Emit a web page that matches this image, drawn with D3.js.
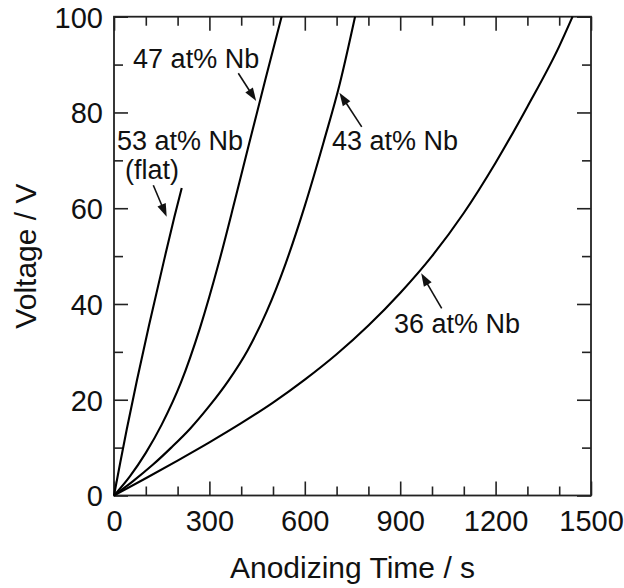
<!DOCTYPE html>
<html>
<head>
<meta charset="utf-8">
<script src="https://cdn.jsdelivr.net/npm/d3@7"></script>
<style>
  html, body { margin: 0; padding: 0; background: #fff; }
  svg { display: block; }
  text { font-family: "Liberation Sans", Arial, Helvetica, sans-serif; fill: #111; }
</style>
</head>
<body>
<svg id="chart" width="624" height="588"></svg>
<script>
// ---- Data ----
const t53 = [0, 20, 40, 72, 110, 157, 190, 213];
const v53 = [0, 7.0, 13.8, 24.0, 35.5, 49.0, 58.2, 64.2];

const t47 = [0, 50, 100, 150, 210, 270, 330, 380, 425, 475, 527];
const v47 = [0, 4.0, 8.9, 14.8, 23.5, 34.9, 48.7, 61.6, 73.5, 86.6, 100];

const t43 = [0, 60, 120, 180, 240, 300, 360, 420, 480, 540, 600, 660, 710, 758];
const v43 = [0, 3.0, 6.3, 10.0, 14.0, 18.7, 24.0, 30.3, 38.4, 48.5, 60.5, 74.0, 86.0, 100];

const t36 = [0, 100, 200, 300, 400, 500, 600, 700, 800, 900, 1000, 1100, 1200, 1300, 1400, 1442];
const v36 = [0, 3.6, 7.3, 11.1, 15.1, 19.4, 24.2, 29.5, 35.5, 42.3, 50.0, 59.0, 69.5, 81.2, 93.8, 100];

const xMajorTicks = [0, 300, 600, 900, 1200, 1500];
const xMinorTicks = [100, 200, 400, 500, 700, 800, 1000, 1100, 1300, 1400];
const yMajorTicks = [0, 20, 40, 60, 80, 100];
const yMinorTicks = [10, 30, 50, 70, 90];

const xTitle = "Anodizing Time / s";
const yTitle = "Voltage / V";

// annotation labels (data coords) and arrows (from -> to, data coords)
const labelTexts = ["47 at% Nb", "53 at% Nb", "(flat)", "43 at% Nb", "36 at% Nb"];
const labelT = [60, 9.4, 34.6, 685.5, 880.5];
const labelV = [89.3, 72.2, 66.1, 72.2, 33.9];

const arrowFromT = [390.9, 123.6, 779, 1030.5];
const arrowFromV = [88.2, 64.8, 77.0, 39.1];
const arrowToT = [447, 165.7, 709, 966];
const arrowToV = [82.4, 58.2, 84.1, 46.4];

// ---- Chart ----
const svg = d3.select("#chart");
const L = 114, R = 591, T = 16.7, B = 495.5;

const x = d3.scaleLinear().domain([0, 1500]).range([L, R]);
const y = d3.scaleLinear().domain([0, 100]).range([B, T]);

const axisColor = "#222";
const majorLen = 14, minorLen = 9;
const fontStack = '"Liberation Sans", Arial, Helvetica, sans-serif';

function styleAxis(g) {
  g.select(".domain").remove();
  g.selectAll(".tick line").attr("stroke", axisColor).attr("stroke-width", 1.6);
}

// bottom
svg.append("g").attr("transform", `translate(0,${B})`)
  .call(d3.axisBottom(x).tickValues(xMajorTicks).tickSizeInner(-majorLen).tickSizeOuter(0).tickPadding(15).tickFormat(d3.format("d")))
  .call(styleAxis)
  .call(g => g.selectAll("text").attr("font-size", 29).attr("fill", "#111").style("font-family", fontStack));
svg.append("g").attr("transform", `translate(0,${B})`)
  .call(d3.axisBottom(x).tickValues(xMinorTicks).tickSizeInner(-minorLen).tickSizeOuter(0).tickFormat(""))
  .call(styleAxis);
// top
svg.append("g").attr("transform", `translate(0,${T})`)
  .call(d3.axisTop(x).tickValues(xMajorTicks).tickSizeInner(-majorLen).tickSizeOuter(0).tickFormat(""))
  .call(styleAxis);
svg.append("g").attr("transform", `translate(0,${T})`)
  .call(d3.axisTop(x).tickValues(xMinorTicks).tickSizeInner(-minorLen).tickSizeOuter(0).tickFormat(""))
  .call(styleAxis);
// left
svg.append("g").attr("transform", `translate(${L},0)`)
  .call(d3.axisLeft(y).tickValues(yMajorTicks).tickSizeInner(-majorLen).tickSizeOuter(0).tickPadding(11).tickFormat(d3.format("d")))
  .call(styleAxis)
  .call(g => g.selectAll("text").attr("font-size", 29).attr("fill", "#111").attr("dy", "0.36em").style("font-family", fontStack));
svg.append("g").attr("transform", `translate(${L},0)`)
  .call(d3.axisLeft(y).tickValues(yMinorTicks).tickSizeInner(-minorLen).tickSizeOuter(0).tickFormat(""))
  .call(styleAxis);
// right
svg.append("g").attr("transform", `translate(${R},0)`)
  .call(d3.axisRight(y).tickValues(yMajorTicks).tickSizeInner(-majorLen).tickSizeOuter(0).tickFormat(""))
  .call(styleAxis);
svg.append("g").attr("transform", `translate(${R},0)`)
  .call(d3.axisRight(y).tickValues(yMinorTicks).tickSizeInner(-minorLen).tickSizeOuter(0).tickFormat(""))
  .call(styleAxis);

// frame
svg.append("rect")
  .attr("x", L).attr("y", T).attr("width", R - L).attr("height", B - T)
  .attr("fill", "none").attr("stroke", axisColor).attr("stroke-width", 1.8);

// curves
const series = [
  { t: t53, v: v53 },
  { t: t47, v: v47 },
  { t: t43, v: v43 },
  { t: t36, v: v36 }
];
const line = d3.line()
  .x(d => x(d[0])).y(d => y(d[1]))
  .curve(d3.curveMonotoneX);

svg.append("g").selectAll("path")
  .data(series)
  .join("path")
  .attr("d", s => line(s.t.map((tt, i) => [tt, s.v[i]])))
  .attr("fill", "none")
  .attr("stroke", "#000")
  .attr("stroke-width", 2.1)
  .attr("stroke-linejoin", "round");

// titles
svg.append("text")
  .attr("x", (L + R) / 2).attr("y", 578)
  .attr("text-anchor", "middle").attr("font-size", 30)
  .text(xTitle);
svg.append("text")
  .attr("transform", `translate(36,${(T + B) / 2}) rotate(-90)`)
  .attr("text-anchor", "middle").attr("font-size", 30)
  .text(yTitle);

// labels
svg.append("g").selectAll("text")
  .data(labelTexts)
  .join("text")
  .attr("x", (d, i) => x(labelT[i]))
  .attr("y", (d, i) => y(labelV[i]))
  .attr("font-size", 27)
  .text(d => d);

// arrows
const headLen = 13, headHalf = 4.5;
arrowFromT.forEach((ft, i) => {
  const x1 = x(ft), y1 = y(arrowFromV[i]);
  const x2 = x(arrowToT[i]), y2 = y(arrowToV[i]);
  const dx = x2 - x1, dy = y2 - y1;
  const len = Math.hypot(dx, dy);
  const ux = dx / len, uy = dy / len;
  const bx = x2 - ux * headLen, by = y2 - uy * headLen;
  svg.append("line")
    .attr("x1", x1).attr("y1", y1).attr("x2", bx + ux * 2).attr("y2", by + uy * 2)
    .attr("stroke", "#111").attr("stroke-width", 1.6);
  svg.append("path")
    .attr("d", `M${x2},${y2} L${bx - uy * headHalf},${by + ux * headHalf} L${bx + uy * headHalf},${by - ux * headHalf} Z`)
    .attr("fill", "#111");
});
</script>
</body>
</html>
